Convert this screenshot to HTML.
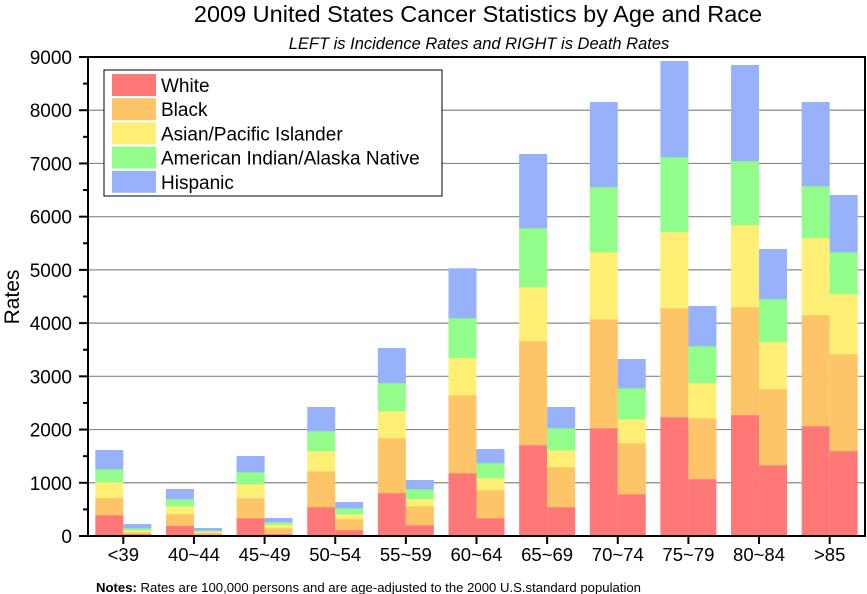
<!DOCTYPE html>
<html><head><meta charset="utf-8"><style>
html,body{margin:0;padding:0;background:#fff;}
svg{display:block;font-family:"Liberation Sans",Arial,sans-serif;}
</style></head><body>
<svg id="chart" width="867" height="594" viewBox="0 0 867 594">
<text x="478" y="22" text-anchor="middle" font-size="23.5">2009 United States Cancer Statistics by Age and Race</text>
<text x="479" y="49" text-anchor="middle" font-size="16.5" font-style="italic">LEFT is Incidence Rates and RIGHT is Death Rates</text>
<text transform="translate(19,297) rotate(-90)" text-anchor="middle" font-size="21">Rates</text>
<g id="grid"></g><g id="bars"></g><g id="axes"></g>
<g>
<rect x="104" y="70" width="338" height="126" fill="#fff" stroke="#000" stroke-width="1"/>
<g id="legend-items"></g>
</g>
<text x="96" y="592" font-size="12.5" textLength="545" lengthAdjust="spacingAndGlyphs"><tspan font-weight="bold">Notes:</tspan> Rates are 100,000 persons and are age-adjusted to the 2000 U.S.standard population</text>
</svg>
<script>
const categories=["<39","40~44","45~49","50~54","55~59","60~64","65~69","70~74","75~79","80~84",">85"];
const seriesNames=["White","Black","Asian/Pacific Islander","American Indian/Alaska Native","Hispanic"];
const incWhite=[395,194,338,545,808,1184,1710,2029,2236,2274,2067];
const incBlack=[325,219,376,676,1033,1465,1954,2048,2048,2029,2086];
const incAsian=[295,151,263,376,508,696,1015,1259,1428,1541,1446];
const incNative=[244,131,226,376,526,751,1108,1222,1409,1202,977];
const incHispanic=[357,188,300,451,657,934,1391,1597,1804,1804,1579];
const deaWhite=[40,30,43,113,207,338,545,789,1071,1334,1597];
const deaBlack=[30,33,107,206,357,526,752,958,1146,1428,1823];
const deaAsian=[40,25,63,94,131,226,319,451,658,883,1127];
const deaNative=[40,19,50,113,188,282,413,583,695,808,789];
const deaHispanic=[75,43,75,113,169,263,395,545,752,940,1071];
const yTicks=[0,1000,2000,3000,4000,5000,6000,7000,8000,9000];
const colors=["#ff7878","#fec468","#fff075","#93fd8b","#97b2fb"];
const NS="http://www.w3.org/2000/svg";
const X0=88,X1=865,Y0=536,YT=57,YMAX=9000;
const y=v=>Y0-(v/YMAX)*(Y0-YT);
const step=(X1-X0)/categories.length;
const cx=i=>X0+step*(i+0.5);
const BW=28;
function mk(tag,attrs,parent){const e=document.createElementNS(NS,tag);for(const k in attrs)e.setAttribute(k,attrs[k]);parent.appendChild(e);return e;}
const grid=document.getElementById('grid'),bars=document.getElementById('bars'),axes=document.getElementById('axes');
yTicks.forEach(t=>{if(t>0&&t<YMAX){const l=mk('line',{x1:X0,x2:X1,y1:y(t),y2:y(t),stroke:'#888','stroke-width':1.2},grid);

}});
const inc=[incWhite,incBlack,incAsian,incNative,incHispanic];
const dea=[deaWhite,deaBlack,deaAsian,deaNative,deaHispanic];
categories.forEach((c,i)=>{
  [[inc,cx(i)-BW,'incidence'],[dea,cx(i),'death']].forEach(([set,x0,kind])=>{
    let acc=0;
    set.forEach((s,k)=>{const v=s[i];const r=mk('rect',{x:x0,y:y(acc+v),width:BW,height:y(acc)-y(acc+v)+0.3,fill:colors[k]},bars);
      
      
      acc+=v;});
  });
});
let a=mk('rect',{x:X0,y:YT,width:X1-X0,height:Y0-YT,fill:'none',stroke:'#000','stroke-width':2},axes);


for(let t=0;t<=YMAX;t+=500){const major=t%1000===0;
  mk('line',{x1:X0-(major?9:5),x2:X0,y1:y(t),y2:y(t),stroke:'#000','stroke-width':2},axes);}
yTicks.forEach(t=>{const tx=mk('text',{x:72,y:y(t)+7,'text-anchor':'end','font-size':19},axes);tx.textContent=t;
  
  });
categories.forEach((c,i)=>{mk('line',{x1:cx(i),x2:cx(i),y1:Y0,y2:Y0+8,stroke:'#000','stroke-width':2},axes);
  const tx=mk('text',{x:cx(i),y:561,'text-anchor':'middle','font-size':18.5},axes);tx.textContent=c;
  
  });
const li=document.getElementById('legend-items');
seriesNames.forEach((n,k)=>{const yy=74+k*24.2;
  const r=mk('rect',{x:112,y:yy,width:44,height:22,fill:colors[k]},li);
  
  
  const t=mk('text',{x:161,y:yy+18,'font-size':19},li);t.textContent=n;
  
  });
</script>
</body></html>
